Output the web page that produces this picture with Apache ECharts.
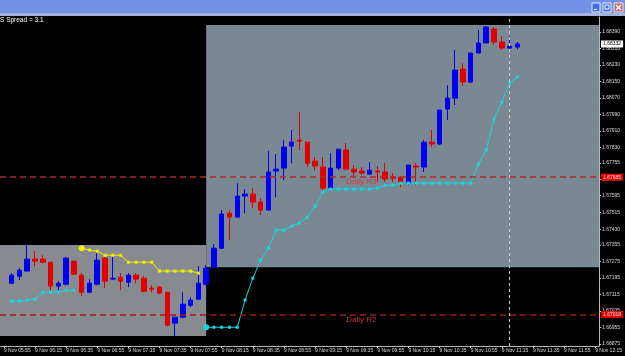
<!DOCTYPE html>
<html><head><meta charset="utf-8">
<script src="https://cdn.jsdelivr.net/npm/echarts@6/dist/echarts.min.js"></script>
<style>html,body{margin:0;padding:0;background:#000;overflow:hidden}#c{width:625px;height:356px}</style>
</head><body><div id="c"></div><script>
const datePrefix = '9 Nov ';
const padBefore = ['05:55'];
const barTimes = ['06:00','06:05','06:10','06:15','06:20','06:25','06:30','06:35','06:40','06:45','06:50','06:55',
'07:00','07:05','07:10','07:15','07:20','07:25','07:30','07:35','07:40','07:45','07:50','07:55',
'08:00','08:05','08:10','08:15','08:20','08:25','08:30','08:35','08:40','08:45','08:50','08:55',
'09:00','09:05','09:10','09:15','09:20','09:25','09:30','09:35','09:40','09:45','09:50','09:55',
'10:00','10:05','10:10','10:15','10:20','10:25','10:30','10:35','10:40','10:45','10:50','10:55',
'11:00','11:05','11:10','11:15','11:20','11:25'];
const padAfter = ['11:30','11:35','11:40','11:45','11:50','11:55','12:00','12:05','12:10','12:15'];

const open = [1.67170,1.67204,1.67229,1.67287,1.67287,1.67272,1.67156,1.67165,1.67277,1.67209,
1.67126,1.67165,1.67292,1.67190,1.67199,1.67175,1.67209,1.67194,1.67146,1.67151,
1.67126,1.66976,1.67005,1.67063,1.67092,1.67165,1.67248,1.67340,1.67510,1.67491,
1.67593,1.67603,1.67564,1.67525,1.67715,1.67729,1.67836,1.67865,1.67855,1.67763,
1.67734,1.67632,1.67729,1.67817,1.67724,1.67715,1.67700,1.67715,1.67710,1.67685,
1.67685,1.67656,1.67739,1.67734,1.67855,1.67846,1.68016,1.68069,1.68210,1.68147,
1.68288,1.68337,1.68405,1.68341,1.68312,1.68317];
const high = [1.67219,1.67243,1.67355,1.67326,1.67306,1.67272,1.67180,1.67297,1.67282,1.67219,
1.67190,1.67316,1.67297,1.67297,1.67219,1.67219,1.67219,1.67204,1.67160,1.67156,
1.67126,1.67005,1.67126,1.67102,1.67253,1.67258,1.67360,1.67525,1.67525,1.67656,
1.67627,1.67632,1.67583,1.67812,1.67797,1.67865,1.67914,1.68001,1.67855,1.67783,
1.67783,1.67802,1.67821,1.67851,1.67744,1.67734,1.67758,1.67739,1.67753,1.67705,
1.67685,1.67744,1.67753,1.67865,1.67914,1.68011,1.68132,1.68303,1.68239,1.68288,
1.68400,1.68419,1.68414,1.68371,1.68371,1.68341];
const low = [1.67165,1.67185,1.67229,1.67253,1.67267,1.67136,1.67136,1.67160,1.67209,1.67107,
1.67122,1.67160,1.67146,1.67185,1.67136,1.67151,1.67170,1.67126,1.67126,1.67117,
1.66961,1.66913,1.67000,1.67054,1.67088,1.67160,1.67243,1.67335,1.67379,1.67486,
1.67510,1.67535,1.67501,1.67525,1.67588,1.67671,1.67753,1.67817,1.67734,1.67719,
1.67622,1.67622,1.67719,1.67719,1.67685,1.67695,1.67695,1.67661,1.67661,1.67661,
1.67637,1.67646,1.67646,1.67710,1.67831,1.67841,1.67962,1.68035,1.68128,1.68142,
1.68288,1.68337,1.68327,1.68303,1.68298,1.68307];
const close = [1.67209,1.67233,1.67287,1.67277,1.67272,1.67156,1.67170,1.67292,1.67214,1.67126,
1.67170,1.67282,1.67180,1.67194,1.67180,1.67209,1.67190,1.67131,1.67141,1.67122,
1.66966,1.67005,1.67068,1.67088,1.67170,1.67243,1.67340,1.67506,1.67491,1.67593,
1.67603,1.67564,1.67525,1.67710,1.67724,1.67831,1.67855,1.67860,1.67753,1.67739,
1.67632,1.67729,1.67821,1.67724,1.67710,1.67705,1.67719,1.67710,1.67676,1.67680,
1.67661,1.67744,1.67734,1.67855,1.67846,1.68011,1.68069,1.68205,1.68147,1.68288,
1.68337,1.68414,1.68341,1.68312,1.68322,1.68332];

const cyanStop = [1.67083,1.67083,1.67088,1.67092,1.67126,1.67126,1.67126,1.67136,1.67136,
null,null,null,null,null,null,null,null,null,null,null,null,null,null,null,null,
1.66956,1.66956,1.66956,1.66956,1.66956,1.67088,1.67195,1.67282,1.67340,
1.67428,1.67428,1.67447,1.67462,1.67491,1.67544,1.67612,
1.67627,1.67627,1.67627,1.67627,1.67627,1.67627,1.67632,1.67646,1.67646,
1.67656,1.67656,1.67656,1.67656,1.67656,1.67656,1.67656,1.67656,1.67656,1.67656,
1.67748,1.67817,1.67967,1.68050,1.68142,1.68171];
const yellowStop = [null,null,null,null,null,null,null,null,null,
1.67340,1.67331,1.67326,1.67306,1.67306,1.67306,1.67272,1.67272,1.67272,1.67272,
1.67229,1.67229,1.67229,1.67229,1.67229,1.67219,
null,null,null,null,null,null,null,null,null,null,null,null,null,null,null,null,null,null,null,null,
null,null,null,null,null,null,null,null,null,null,null,null,null,null,null,null,null,null,null,null,null];

const yTicks = [1.66875,1.66955,1.67035,1.67115,1.67195,1.67275,1.67355,1.67430,1.67515,1.67595,
1.67675,1.67755,1.67830,1.67910,1.67990,1.68070,1.68150,1.68230,1.68310,1.68390];

const dailyR3 = 1.67685;
const dailyR2 = 1.67018;
const bidPrice = 1.68332;
const cursorTime = '11:20';
const labelTime = '09:35';
const boxSplitTime = '08:05';
const boxLeft = [1.67355, 1.66913];
const boxRight = [1.68424, 1.67248];
const tfLabels = ['H1','M30','M15','M5'];
const spreadText = 'S Spread = 3.1';

const FONT = 'Liberation Sans';
const categories = padBefore.concat(barTimes, padAfter);
const padNull = arr => padBefore.map(()=>null).concat(arr, padAfter.map(()=>null));
const emptyC = ['-','-','-','-'];
const candleData = padBefore.map(()=>emptyC).concat(
  barTimes.map((t,i)=>[open[i],close[i],low[i],high[i]]),
  padAfter.map(()=>emptyC));

function withBigDots(arr){
  const out = padNull(arr);
  return out.map((v,i)=>{
    if (v != null && i > 1 && out[i-1] == null) return {value:v, symbol:'circle', symbolSize:6};
    return v;
  });
}

const chart = echarts.init(document.getElementById('c'), null, {renderer:'canvas'});

const graphics = [
  {type:'rect', shape:{x:0,y:0,width:625,height:16}, style:{fill:'#7392e6'}},
  {type:'rect', shape:{x:0,y:13,width:625,height:3}, style:{fill:'#a3b3de'}},
  {type:'rect', shape:{x:592,y:3,width:8,height:9}, style:{fill:'#3f6fe2', stroke:'#e8eefc', lineWidth:1}},
  {type:'rect', shape:{x:594,y:9,width:3,height:1}, style:{fill:'#ffffff'}},
  {type:'rect', shape:{x:603,y:3,width:8,height:9}, style:{fill:'#3f6fe2', stroke:'#e8eefc', lineWidth:1}},
  {type:'rect', shape:{x:605,y:5,width:4,height:4}, style:{fill:'none', stroke:'#ffffff', lineWidth:1}},
  {type:'rect', shape:{x:614,y:3,width:9,height:9}, style:{fill:'#c86a6a', stroke:'#f0e0e0', lineWidth:1}},
  {type:'line', shape:{x1:616,y1:5,x2:621,y2:10}, style:{stroke:'#ffffff', lineWidth:1.5}},
  {type:'line', shape:{x1:621,y1:5,x2:616,y2:10}, style:{stroke:'#ffffff', lineWidth:1.5}},
  {type:'text', style:{x:0, y:17, text:spreadText, fill:'#ffffff', font:'6.5px '+FONT}}
];
const tfX = [556, 566, 578, 590];
tfLabels.forEach((t,i)=>{
  graphics.push({type:'text', style:{x:tfX[i], y:27, text:t, fill:'#3cc8d8', font:'5px '+FONT}});
  graphics.push({type:'rect', shape:{x:tfX[i]+1, y:33, width:4.5, height:4.5}, style:{fill:'#0000ff'}});
});

const rLabel = {show:true, position:'end', distance:2, formatter:p=>p.value.toFixed(5), backgroundColor:'#e00000', color:'#ffd8d8', fontSize:5, fontFamily:FONT, padding:[1,2]};

const option = {
  backgroundColor:'#000000',
  animation:false,
  grid:{left:-13, right:22, top:17, bottom:10, containLabel:false},
  graphic: graphics,
  xAxis:{
    type:'category', data:categories, boundaryGap:true,
    axisLine:{show:true, lineStyle:{color:'#b8b8b8', width:1}},
    axisTick:{show:true, interval:3, alignWithLabel:true, length:2, lineStyle:{color:'#d0d0d0'}},
    axisLabel:{show:true, interval:3, color:'#dcdcdc', fontSize:5, fontFamily:FONT, align:'left', margin:2,
      formatter: v => datePrefix + v},
    splitLine:{show:false}
  },
  yAxis:{
    type:'value', position:'right', min:1.66865, max:1.68463, scale:true,
    axisLine:{show:true, lineStyle:{color:'#b8b8b8', width:1}},
    axisTick:{show:true, length:2, customValues:yTicks, lineStyle:{color:'#d0d0d0'}},
    axisLabel:{show:true, customValues:yTicks, color:'#dcdcdc', fontSize:5, fontFamily:FONT, margin:3,
      formatter: v => v.toFixed(5)},
    splitLine:{show:false}
  },
  series:[
    {
      type:'line', name:'objects', data:padNull(barTimes.map(()=>null)), z:1, clip:false,
      silent:true, symbol:'none',
      markArea:{
        silent:true,
        data:[
          [{yAxis:boxLeft[0], itemStyle:{color:'#878a8e'}}, {xAxis:boxSplitTime, yAxis:boxLeft[1]}],
          [{xAxis:boxSplitTime, yAxis:boxRight[0], itemStyle:{color:'#7a8893'}}, {yAxis:boxRight[1]}]
        ]
      },
      markLine:{
        silent:true, symbol:['none','none'], precision:5,
        data:[
          {yAxis:dailyR3, lineStyle:{color:'#b02a2a', type:[6,4], width:1.5}, label:rLabel},
          {yAxis:dailyR2, lineStyle:{color:'#9a1a1a', type:[6,4], width:1.5}, label:rLabel},
          {xAxis:cursorTime, lineStyle:{color:'#c8c8c8', type:[3,3], width:1}, label:{show:false}}
        ]
      },
      markPoint:{
        silent:true, symbol:'rect', symbolSize:0,
        data:[
          {coord:[labelTime, dailyR3], label:{show:true, formatter:'Daily R3', position:[0,1], color:'#d03a3a', fontSize:8, fontFamily:FONT}},
          {coord:[labelTime, dailyR2], label:{show:true, formatter:'Daily R2', position:[0,1], color:'#d03a3a', fontSize:8, fontFamily:FONT}}
        ]
      }
    },
    {
      type:'candlestick', name:'price', data:candleData, z:3, clip:false, barWidth:5,
      itemStyle:{color:'#0000f0', color0:'#e00000', borderColor:'#0000f0', borderColor0:'#e00000', borderWidth:1},
      markLine:{
        silent:true, symbol:['none','none'], precision:5,
        data:[{yAxis:bidPrice, lineStyle:{color:'rgba(0,0,0,0)', width:1, type:'solid'},
          label:{show:true, position:'end', distance:2, formatter:p=>p.value.toFixed(5), backgroundColor:'#ffffff', color:'#000000', fontSize:5, fontFamily:FONT, padding:[1,2], opacity:1}}]
      }
    },
    {
      type:'line', name:'stopUp', data:withBigDots(cyanStop), z:4, connectNulls:false,
      symbol:'rect', symbolSize:3, showAllSymbol:true,
      lineStyle:{color:'#18d6e0', width:1}, itemStyle:{color:'#18d6e0'}
    },
    {
      type:'line', name:'stopDown', data:withBigDots(yellowStop), z:4, connectNulls:false,
      symbol:'rect', symbolSize:3, showAllSymbol:true,
      lineStyle:{color:'#f0f000', width:1}, itemStyle:{color:'#f0f000'}
    }
  ]
};
chart.setOption(option);
</script></body></html>
